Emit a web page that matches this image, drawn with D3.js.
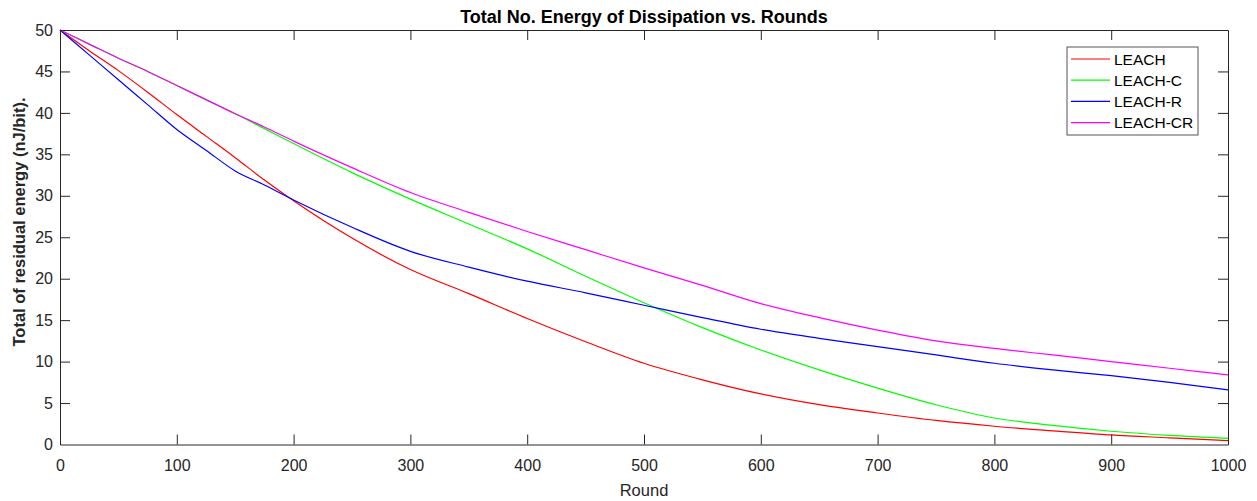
<!DOCTYPE html>
<html>
<head>
<meta charset="utf-8">
<script src="https://cdn.jsdelivr.net/npm/d3@7"></script>
<style>
  body { margin: 0; background: #fff; }
  text { font-family: Arial, "Liberation Sans", sans-serif; }
</style>
</head>
<body>
<div id="chart"></div>
<script>
const rounds = [0, 25, 50, 75, 100, 125, 150, 175, 200, 250, 300, 350, 400, 450, 500, 550, 600, 650, 700, 750, 800, 850, 900, 950, 1000];

const leach   = [50, 47.5, 45.1, 42.5, 39.8, 37.2, 34.6, 31.9, 29.4, 24.9, 21.1, 18.2, 15.2, 12.4, 9.8, 7.8, 6.1, 4.8, 3.8, 2.9, 2.2, 1.65, 1.15, 0.8, 0.46];
const leachC  = [50, 48.3, 46.6, 45.0, 43.3, 41.6, 39.9, 38.1, 36.3, 32.8, 29.6, 26.6, 23.6, 20.3, 17.1, 14.1, 11.4, 9.0, 6.8, 4.8, 3.2, 2.3, 1.6, 1.1, 0.75];
const leachR  = [50, 47.0, 44.0, 41.0, 38.0, 35.5, 33.0, 31.3, 29.5, 26.2, 23.3, 21.4, 19.7, 18.3, 16.8, 15.3, 13.9, 12.8, 11.8, 10.8, 9.8, 9.0, 8.3, 7.5, 6.6];
const leachCR = [50, 48.3, 46.6, 45.0, 43.3, 41.6, 39.9, 38.3, 36.6, 33.4, 30.4, 28.0, 25.7, 23.5, 21.3, 19.2, 17.0, 15.3, 13.8, 12.5, 11.6, 10.8, 10.0, 9.2, 8.4];

const seriesNames = ["LEACH", "LEACH-C", "LEACH-R", "LEACH-CR"];
const seriesColours = ["#ff0000", "#00ff00", "#0000ff", "#ff00ff"];
const xTicks = d3.range(0, 1001, 100);
const yTicks = d3.range(0, 51, 5);

const chartConfig = {
  width: 1257,
  height: 501,
  margin: {top: 30, right: 29, bottom: 56.5, left: 60},
  axisColour: "#262626",
  tickLength: 10,
  tickFont: "16px"
};

const series = [leach, leachC, leachR, leachCR].map((values, i) => ({
  name: seriesNames[i],
  colour: seriesColours[i],
  points: rounds.map((r, j) => ({round: r, value: values[j]}))
}));

const innerW = chartConfig.width - chartConfig.margin.left - chartConfig.margin.right;
const innerH = chartConfig.height - chartConfig.margin.top - chartConfig.margin.bottom;

const x = d3.scaleLinear().domain([0, 1000]).range([0, innerW]);
const y = d3.scaleLinear().domain([0, 50]).range([innerH, 0]);

const svg = d3.select("#chart").append("svg")
  .attr("width", chartConfig.width)
  .attr("height", chartConfig.height);

const g = svg.append("g")
  .attr("transform", `translate(${chartConfig.margin.left},${chartConfig.margin.top})`);

// lines first, axes box drawn over them
const line = d3.line()
  .x(d => x(d.round))
  .y(d => y(d.value))
  .curve(d3.curveMonotoneX);

g.selectAll(".series")
  .data(series)
  .enter()
  .append("path")
  .attr("class", "series")
  .attr("fill", "none")
  .attr("stroke", d => d.colour)
  .attr("stroke-width", 1.2)
  .attr("d", d => line(d.points));

// bottom + top axes (ticks pointing inward)
const xAxisBottom = g.append("g")
  .attr("transform", `translate(0,${innerH})`)
  .call(d3.axisBottom(x).tickValues(xTicks).tickFormat(d3.format("d")).tickSize(-chartConfig.tickLength).tickPadding(15).tickSizeOuter(0));
const xAxisTop = g.append("g")
  .call(d3.axisTop(x).tickValues(xTicks).tickSize(-chartConfig.tickLength).tickFormat("").tickSizeOuter(0));

// left + right axes
const yAxisLeft = g.append("g")
  .call(d3.axisLeft(y).tickValues(yTicks).tickSize(-chartConfig.tickLength).tickPadding(7).tickSizeOuter(0));
const yAxisRight = g.append("g")
  .attr("transform", `translate(${innerW},0)`)
  .call(d3.axisRight(y).tickValues(yTicks).tickSize(-chartConfig.tickLength).tickFormat("").tickSizeOuter(0));

[xAxisBottom, xAxisTop, yAxisLeft, yAxisRight].forEach(ax => {
  ax.select(".domain").attr("stroke", chartConfig.axisColour).attr("stroke-width", 1);
  ax.selectAll(".tick line").attr("stroke", chartConfig.axisColour);
  ax.selectAll(".tick text")
    .attr("fill", chartConfig.axisColour)
    .attr("font-size", chartConfig.tickFont)
    .style("font-family", "Arial, 'Liberation Sans', sans-serif");
});

// remove the ticks sitting on the box corners
xAxisBottom.selectAll(".tick line").filter(d => d === 0 || d === 1000).remove();
xAxisTop.selectAll(".tick line").filter(d => d === 0 || d === 1000).remove();
yAxisLeft.selectAll(".tick line").filter(d => d === 0 || d === 50).remove();
yAxisRight.selectAll(".tick line").filter(d => d === 0 || d === 50).remove();

// title and axis labels
svg.append("text")
  .attr("x", chartConfig.margin.left + innerW / 2)
  .attr("y", 22.5)
  .attr("text-anchor", "middle")
  .attr("font-size", "18px")
  .attr("font-weight", "bold")
  .attr("fill", "#000")
  .text("Total No. Energy of Dissipation vs. Rounds");

svg.append("text")
  .attr("x", chartConfig.margin.left + innerW / 2)
  .attr("y", 496)
  .attr("text-anchor", "middle")
  .attr("font-size", "16.5px")
  .attr("fill", chartConfig.axisColour)
  .text("Round");

svg.append("text")
  .attr("transform", "translate(24.5,222) rotate(-90)")
  .attr("text-anchor", "middle")
  .attr("font-size", "16.5px")
  .attr("font-weight", "bold")
  .attr("fill", chartConfig.axisColour)
  .text("Total of residual energy (nJ/bit).");

// LEGEND
const legend = svg.append("g")
  .attr("class", "legend")
  .attr("transform", "translate(1067,47)");

legend.append("rect")
  .attr("width", 131)
  .attr("height", 88)
  .attr("fill", "#fff")
  .attr("stroke", "#555")
  .attr("stroke-width", 1);

const legendItems = legend.selectAll(".legendItem")
  .data(series)
  .enter()
  .append("g")
  .attr("class", "legendItem")
  .attr("transform", (d, i) => `translate(0,${12 + i * 21.2})`);

legendItems.append("line")
  .attr("x1", 4)
  .attr("x2", 43)
  .attr("stroke", d => d.colour)
  .attr("stroke-width", 1.2);

legendItems.append("text")
  .attr("x", 47)
  .attr("y", 5.5)
  .attr("font-size", "15.5px")
  .attr("fill", "#000")
  .text(d => d.name);
</script>
</body>
</html>
